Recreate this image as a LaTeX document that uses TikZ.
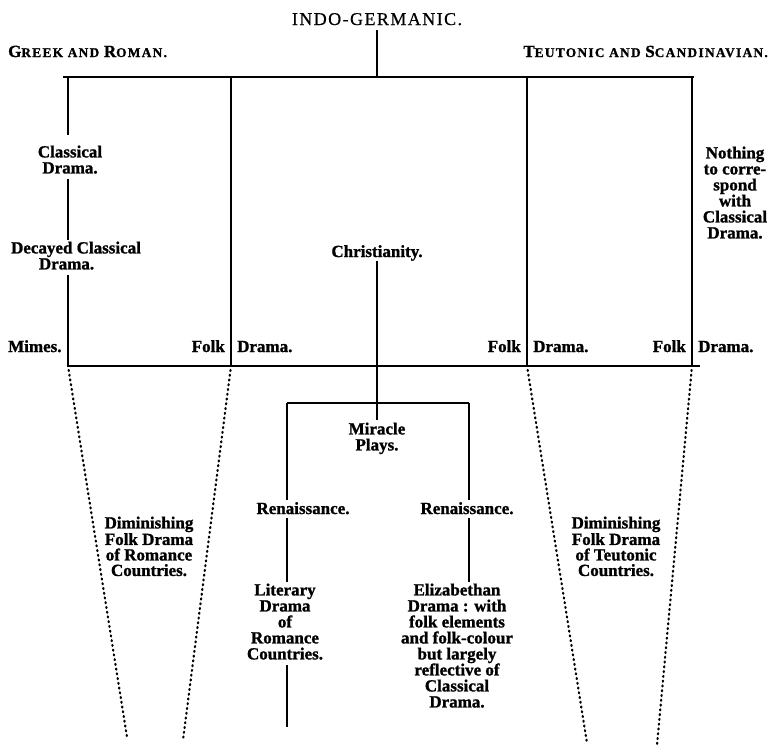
\documentclass[tikz,border=0pt]{standalone}
\usepackage{fontspec}
\setmainfont{Liberation Serif}[BoldFeatures={FakeBold=1.2}]
\newfontfamily\scfont{Liberation Serif}[LetterSpace=10, BoldFeatures={FakeBold=1.2}]
\newfontfamily\topfont{Liberation Serif}[LetterSpace=8, FakeBold=0.6]
\newcommand{\scbig}[1]{{\fontsize{17}{16}\selectfont #1}}
\begin{document}
\begin{tikzpicture}[x=1pt,y=-1pt,
  lbl/.style={font=\fontsize{17}{16}\selectfont\bfseries, inner sep=0pt, align=center},
  dimlbl/.style={lbl, font=\fontsize{17}{15.5}\selectfont\bfseries},
  sclbl/.style={inner sep=0pt, font=\scfont\bfseries\fontsize{13.3}{14}\selectfont},
  toplbl/.style={inner sep=0pt, font=\topfont\fontsize{18}{18}\selectfont},
  ln/.style={line width=1.7pt},
  dots/.style={line width=2.2pt, line cap=round, dash pattern=on 1pt off 3.8pt},
]
\useasboundingbox (0,0) rectangle (770,748);

% headings
\node[toplbl, anchor=base] (indo) at (377,25) {INDO-GERMANIC.};
\node[sclbl, anchor=base west] (greek) at (8,57) {\scbig{G}REEK AND \scbig{R}OMAN.};
\node[sclbl, anchor=base east] (teut) at (768,57) {\scbig{T}EUTONIC AND \scbig{S}CANDINAVIAN.};

% upper labels
\node[lbl, anchor=north] (cd) at (70,145.4) {Classical\\Drama.};
\node[lbl, anchor=north] (dcd) at (76,241.4) {Decayed Classical\\\hspace*{-19pt}Drama.};
\node[lbl, anchor=base west] (mimes) at (8,352) {Mimes.};
\node[lbl, anchor=base east] (folk1) at (225,352) {Folk};
\node[lbl, anchor=base west] (drama1) at (237,352) {Drama.};
\node[lbl, anchor=base east] (folk2) at (521,352) {Folk};
\node[lbl, anchor=base west] (drama2) at (533,352) {Drama.};
\node[lbl, anchor=base east] (folk3) at (686,352) {Folk};
\node[lbl, anchor=base west] (drama3) at (698,352) {Drama.};
\node[lbl, anchor=base] (christ) at (377,257) {Christianity.};
\node[lbl, anchor=north] (nothing) at (735,146.4) {Nothing\\to corre-\\spond\\with\\Classical\\Drama.};

% lower labels
\node[lbl, anchor=north] (miracle) at (377,422.4) {Miracle\\Plays.};
\node[lbl, anchor=base] (ren1) at (303,514) {Renaissance.};
\node[lbl, anchor=base] (ren2) at (467,514) {Renaissance.};
\node[lbl, anchor=north] (lit) at (285,583.4) {Literary\\Drama\\of\\Romance\\Countries.};
\node[lbl, anchor=north] (eliz) at (457,583.4) {Elizabethan\\Drama : with\\folk elements\\and folk-colour\\but largely\\reflective of\\Classical\\Drama.};
\node[dimlbl, anchor=north] (dim1) at (149,516.4) {Diminishing\\Folk Drama\\of Romance\\Countries.};
\node[dimlbl, anchor=north] (dim2) at (616,516.4) {Diminishing\\Folk Drama\\of Teutonic\\Countries.};

% coordinates
\coordinate (tbL) at (63,77);
\coordinate (tbR) at (694,77);
\coordinate (cx) at (377,77);
\coordinate (a1) at (68,77);
\coordinate (a2) at (231,77);
\coordinate (a3) at (527,77);
\coordinate (a4) at (692,77);
\coordinate (b1) at (68,366);
\coordinate (b2) at (231,366);
\coordinate (b3) at (527,366);
\coordinate (b4) at (692,366);
\coordinate (bbL) at (67,366);
\coordinate (bbR) at (700,366);
\coordinate (lc) at (377,403);
\coordinate (lL) at (287,403);
\coordinate (lR) at (469,403);
\coordinate (lEnd) at (287,727);
\coordinate (f1) at (127,737);
\coordinate (f2) at (183,740);
\coordinate (f3) at (587,743);
\coordinate (f4) at (657,745);

% solid lines
\draw[ln, shorten <=5pt] (indo.south) -- (cx);
\draw[ln] (tbL) -- (tbR);
\draw[ln, shorten >=10pt] (a1) -- (cd.north -| a1);
\draw[ln, shorten <=5pt, shorten >=1.5pt] (cd.south -| a1) -- (dcd.north -| a1);
\draw[ln, shorten <=5pt] (dcd.south -| a1) -- (b1);
\draw[ln] (a2) -- (b2);
\draw[ln] (a3) -- (b3);
\draw[ln] (a4) -- (b4);
\draw[ln] (bbL) -- (bbR);
\draw[ln] (christ.south) -- (lc);
\draw[ln] (lL) -- (lR);
\draw[ln, shorten >=2pt] (lc) -- (miracle.north);
\draw[ln, shorten >=2.5pt] (lL) -- (ren1.north -| lL);
\draw[ln, shorten <=4pt, shorten >=1.5pt] (ren1.south -| lL) -- (lit.north -| lL);
\draw[ln, shorten <=5pt] (lit.south -| lL) -- (lEnd);
\draw[ln, shorten >=2.5pt] (lR) -- (ren2.north -| lR);
\draw[ln, shorten <=4pt, shorten >=1.5pt] (ren2.south -| lR) -- (eliz.north -| lR);

% dotted funnels
\draw[dots, shorten <=4pt] (b1) -- (f1);
\draw[dots, shorten <=4pt] (b2) -- (f2);
\draw[dots, shorten <=4pt] (b3) -- (f3);
\draw[dots, shorten <=4pt] (b4) -- (f4);
\end{tikzpicture}
\end{document}
